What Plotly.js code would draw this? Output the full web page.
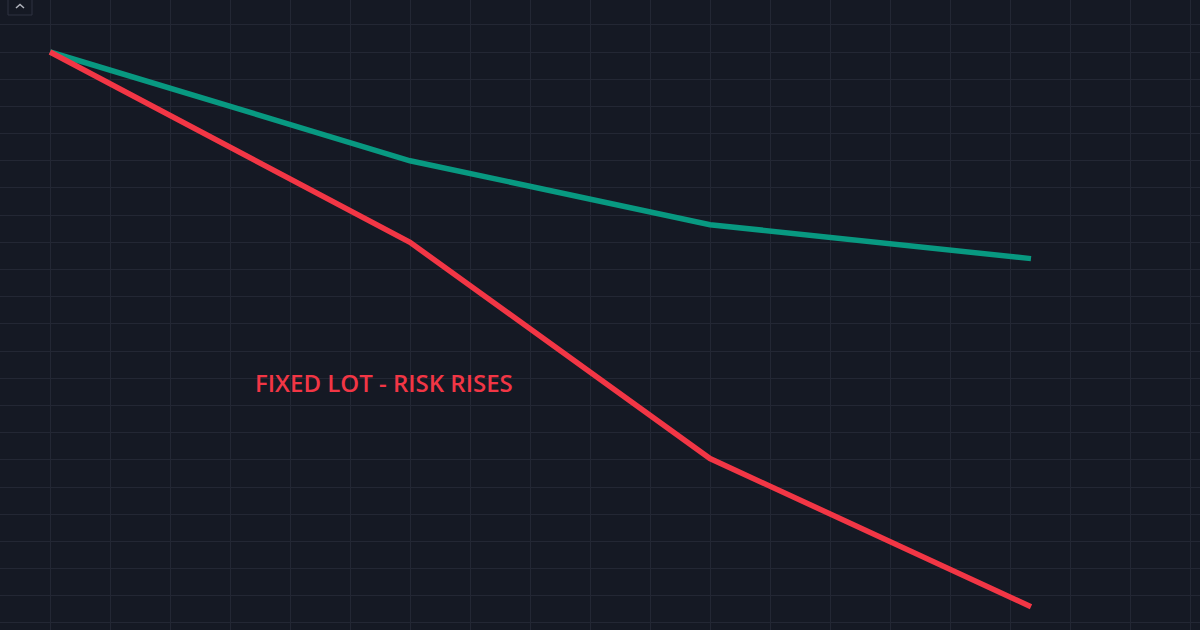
<!DOCTYPE html>
<html>
<head>
<meta charset="utf-8">
<script src="https://cdn.plot.ly/plotly-3.0.1.min.js"></script>
<style>
  html, body { margin: 0; padding: 0; background: #151924; }
  #graphDiv { width: 1200px; height: 630px; }
</style>
</head>
<body>
<div id="graphDiv"></div>
<script>
// html tag
const graphDiv = document.getElementById('graphDiv');

// data *********************************************
// step along the drawdown, equity in % of start
const steps = [0, 6, 11, 16.35];
const equityScaled = [100, 92.0, 87.3, 84.8];   // risk scaled with balance
const equityFixed = [100, 86.0, 70.1, 59.2];    // fixed lot size

const labelText = 'FIXED LOT - RISK RISES';

// colours ******************************************
const bgColor = '#151924';
const gridColor = '#232734';
const greenColor = '#089981';
const redColor = '#f23645';

Plotly.newPlot(
  graphDiv,
  [
  {
    name: 'scaled lot',
    x: steps,
    y: equityScaled,
    mode: 'lines',
    line: {color: greenColor, width: 5.5},
    hoverinfo: 'skip'
  },
  {
    name: 'fixed lot',
    x: steps,
    y: equityFixed,
    mode: 'lines',
    line: {color: redColor, width: 5.5},
    hoverinfo: 'skip'
  }
],
{
  width: 1200,
  height: 630,
  margin: { l: 0, r: 0, t: 0, b: 0 },
  paper_bgcolor: bgColor,
  plot_bgcolor: bgColor,
  showlegend: false,
  xaxis: {
    range: [-50/60, 1150/60],
    tick0: 0, dtick: 1,
    showgrid: true, gridcolor: gridColor, gridwidth: 1,
    zeroline: false, showticklabels: false, ticks: '',
    fixedrange: true
  },
  yaxis: {
    range: [100 - 2*578/27.19, 100 + 2*52/27.19],
    tick0: 100, dtick: 2,
    showgrid: true, gridcolor: gridColor, gridwidth: 1,
    zeroline: false, showticklabels: false, ticks: '',
    fixedrange: true
  },
  annotations: [
    {
      xref: 'paper', yref: 'paper',
      x: 384/1200, y: 1 - 383/630,
      xanchor: 'center', yanchor: 'middle',
      text: labelText,
      showarrow: false,
      font: { family: 'Open Sans', size: 24, weight: 600, color: redColor }
    }
  ],
  shapes: [
    // small collapse button, top left
    {
      type: 'rect', xref: 'paper', yref: 'paper',
      x0: 8/1200, x1: 32/1200, y0: 1 - 15/630, y1: 1 + 4/630,
      line: {color: '#2e3240', width: 1}, fillcolor: 'rgba(0,0,0,0)'
    },
    {
      type: 'path', xref: 'paper', yref: 'paper',
      path: 'M ' + (16/1200) + ' ' + (1 - 8/630) + ' L ' + (20/1200) + ' ' + (1 - 4.5/630) + ' L ' + (24/1200) + ' ' + (1 - 8/630),
      line: {color: '#b2b5be', width: 1.5}
    }
  ]
},
{ displayModeBar: false, staticPlot: true }
);
</script>
</body>
</html>
